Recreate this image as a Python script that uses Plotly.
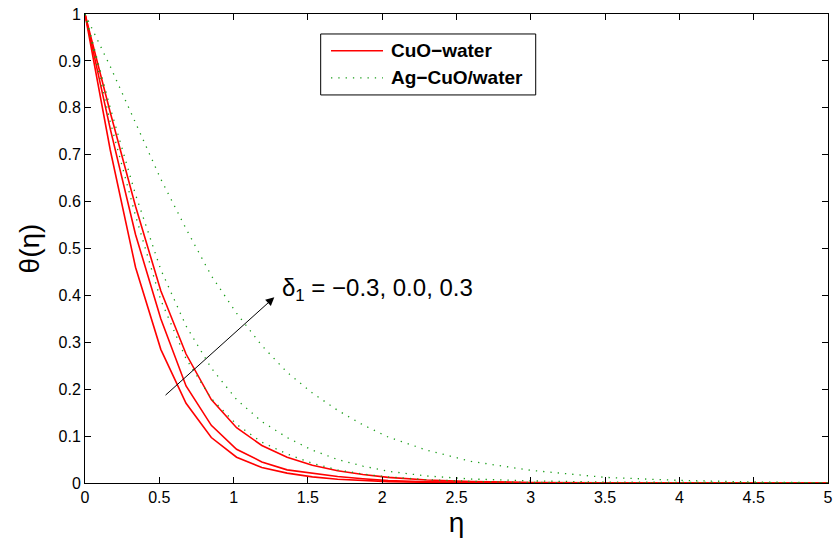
import plotly.graph_objects as go

# eta grid for CuO-water and two nearby Ag-CuO/water curves
eta = [0, 0.17, 0.34, 0.51, 0.68, 0.85, 1.02, 1.19, 1.36, 1.53, 1.7, 1.87, 2.04, 2.3, 2.6, 3.0, 3.5, 4.0, 5.0]
cuo_m03 = [1, 0.71, 0.46, 0.285, 0.17, 0.097, 0.055, 0.033, 0.021, 0.013, 0.008, 0.005, 0.003, 0.0015, 0.0007, 0.0002, 0, 0, 0]
cuo_00 = [1, 0.755, 0.53, 0.35, 0.207, 0.123, 0.072, 0.045, 0.028, 0.021, 0.014, 0.009, 0.005, 0.0025, 0.0012, 0.0004, 0.0001, 0, 0]
cuo_p03 = [1, 0.79, 0.59, 0.41, 0.275, 0.178, 0.118, 0.08, 0.055, 0.038, 0.026, 0.018, 0.012, 0.0065, 0.0033, 0.0012, 0.0004, 0.0001, 0]

hyb_m03 = [1, 0.77, 0.57, 0.39, 0.265, 0.18, 0.125, 0.087, 0.062, 0.042, 0.028, 0.019, 0.013, 0.007, 0.0035, 0.0013, 0.0004, 0.0001, 0]
hyb_00 = [1, 0.80, 0.615, 0.455, 0.335, 0.245, 0.178, 0.131, 0.097, 0.070, 0.050, 0.036, 0.025, 0.015, 0.0085, 0.0045, 0.002, 0.001, 0]

eta_wide = [0, 0.17, 0.34, 0.51, 0.68, 0.85, 1.02, 1.19, 1.36, 1.53, 1.7, 1.87, 2.04, 2.3, 2.6, 3.0, 3.5, 4.0, 4.5, 5.0]
hyb_p03 = [1, 0.888, 0.768, 0.648, 0.542, 0.442, 0.362, 0.293, 0.236, 0.192, 0.155, 0.124, 0.098, 0.070, 0.046, 0.027, 0.012, 0.0055, 0.0022, 0.0005]

x_ticks = [0, 0.5, 1, 1.5, 2, 2.5, 3, 3.5, 4, 4.5, 5]
x_labels = ["0", "0.5", "1", "1.5", "2", "2.5", "3", "3.5", "4", "4.5", "5"]
y_ticks = [0, 0.1, 0.2, 0.3, 0.4, 0.5, 0.6, 0.7, 0.8, 0.9, 1]
y_labels = ["0", "0.1", "0.2", "0.3", "0.4", "0.5", "0.6", "0.7", "0.8", "0.9", "1"]

legend_labels = ["CuO\u2212water", "Ag\u2212CuO/water"]

FONT = "Liberation Sans, Arial, sans-serif"
RED = "#ff0000"
GREEN = "#1a9e1a"
RED_LINE = dict(color=RED, width=1.6)
GREEN_LINE = dict(color=GREEN, width=1.3, dash="1.3px,6px")

fig = go.Figure()
for ys in [cuo_m03, cuo_00, cuo_p03]:
    fig.add_trace(go.Scatter(x=eta, y=ys, mode="lines", line=RED_LINE,
                             name=legend_labels[0], showlegend=False))
for xs, ys in [(eta, hyb_m03), (eta, hyb_00), (eta_wide, hyb_p03)]:
    fig.add_trace(go.Scatter(x=xs, y=ys, mode="lines", line=GREEN_LINE,
                             name=legend_labels[1], showlegend=False))

axis_common = dict(showgrid=False, zeroline=False, showline=True, linecolor="black",
                   linewidth=1, mirror="ticks", ticks="inside", ticklen=6,
                   tickcolor="black", automargin=False,
                   tickfont=dict(family=FONT, size=16, color="black"))

fig.update_xaxes(range=[0, 5], tickvals=x_ticks, ticktext=x_labels,
                 title=dict(text="\u03b7", font=dict(family=FONT, size=28, color="black"), standoff=7),
                 **axis_common)
fig.update_yaxes(range=[0, 1], tickvals=y_ticks, ticktext=y_labels,
                 title=dict(text="\u03b8(\u03b7)", font=dict(family=FONT, size=28, color="black"), standoff=10),
                 **axis_common)

# arrow
fig.add_annotation(x=1.274, y=0.396, ax=0.532, ay=0.1845, xref="x", yref="y",
                   axref="x", ayref="y", text="", showarrow=True,
                   arrowhead=2, arrowsize=1.7, arrowwidth=1, arrowcolor="black")
fig.add_annotation(x=1.31, y=0.412, xref="x", yref="y", xanchor="left", yanchor="middle",
                   text="\u03b4<sub>1</sub> = \u22120.3, 0.0, 0.3", showarrow=False,
                   font=dict(family=FONT, size=24, color="black"))

# legend box (drawn manually to match the reference layout)
fig.add_shape(type="rect", xref="paper", yref="paper", x0=0.3172, x1=0.6066, y0=0.8274, y1=0.9574,
              line=dict(color="black", width=1), fillcolor="white", layer="above")
for yp, ln, lab in [(0.9215, RED_LINE, legend_labels[0]), (0.8640, GREEN_LINE, legend_labels[1])]:
    fig.add_shape(type="line", xref="paper", yref="paper", x0=0.3311, x1=0.4011, y0=yp, y1=yp,
                  line=ln, layer="above")
    fig.add_annotation(x=0.4085, y=yp, xref="paper", yref="paper", xanchor="left", yanchor="middle",
                       text="<b>" + lab + "</b>", showarrow=False,
                       font=dict(family=FONT, size=19, color="black"))

fig.update_layout(
    width=835, height=544,
    margin=dict(l=85, r=7, t=14, b=61),
    paper_bgcolor="white", plot_bgcolor="white",
    showlegend=False,
)

fig.write_html("out.html")
